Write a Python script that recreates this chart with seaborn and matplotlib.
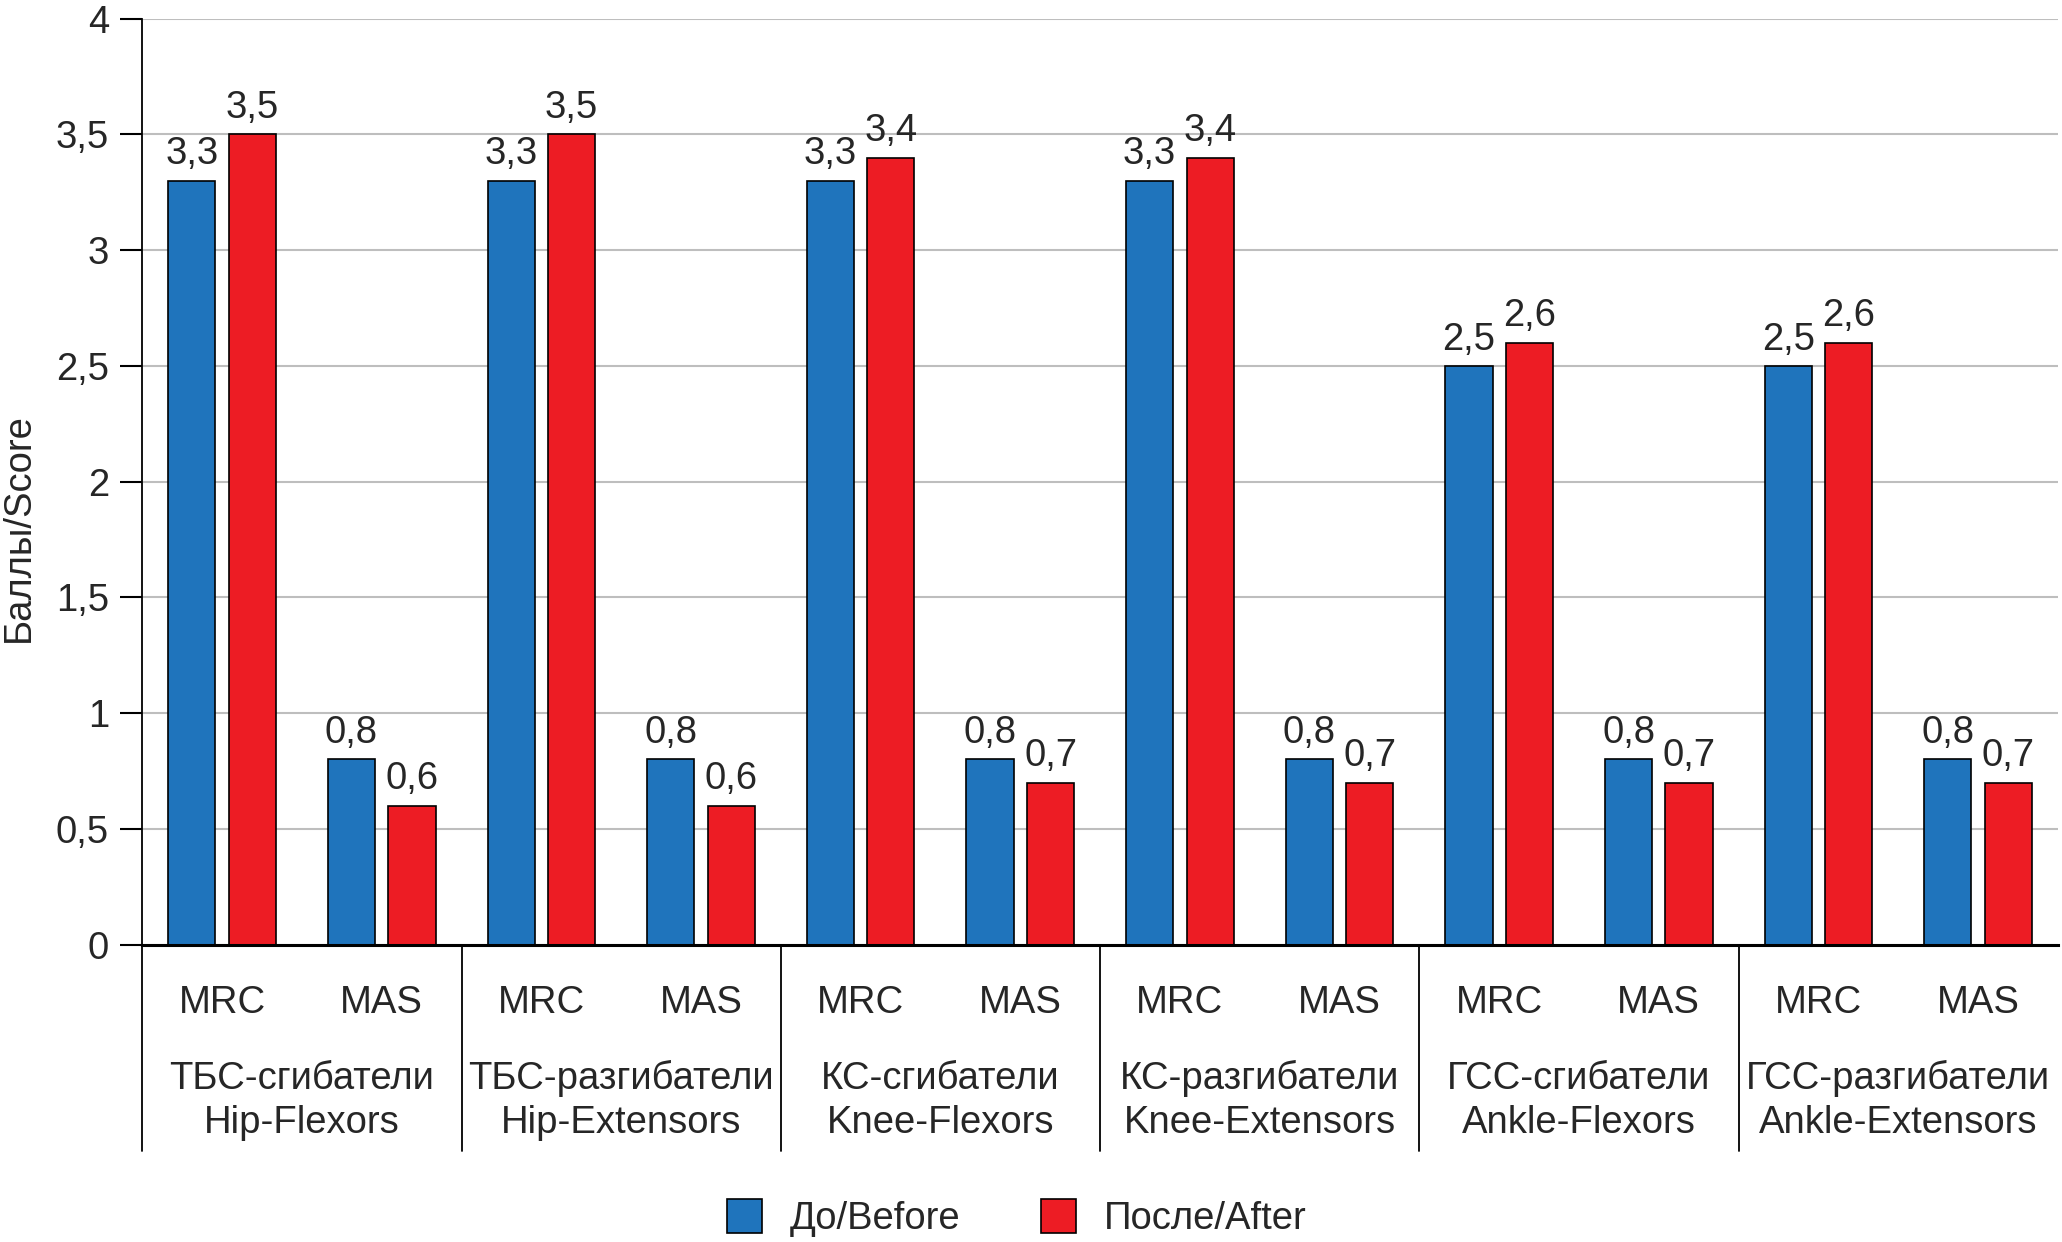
import pandas as pd
import seaborn as sns
import matplotlib.pyplot as plt
import matplotlib.transforms as mtransforms
from matplotlib.ticker import FuncFormatter, MultipleLocator
from matplotlib.patches import Patch

# Data
groups_ru = ['ТБС-сгибатели', 'ТБС-разгибатели', 'КС-сгибатели',
             'КС-разгибатели', 'ГСС-сгибатели', 'ГСС-разгибатели']
groups_en = ['Hip-Flexors', 'Hip-Extensors', 'Knee-Flexors',
             'Knee-Extensors', 'Ankle-Flexors', 'Ankle-Extensors']
measures = ['MRC', 'MAS']
periods = ['До/Before', 'После/After']

mrc_before = [3.3, 3.3, 3.3, 3.3, 2.5, 2.5]
mrc_after = [3.5, 3.5, 3.4, 3.4, 2.6, 2.6]
mas_before = [0.8, 0.8, 0.8, 0.8, 0.8, 0.8]
mas_after = [0.6, 0.6, 0.7, 0.7, 0.7, 0.7]

rows = []
for i, g in enumerate(groups_en):
    rows.append((g + ' MRC', periods[0], mrc_before[i]))
    rows.append((g + ' MRC', periods[1], mrc_after[i]))
    rows.append((g + ' MAS', periods[0], mas_before[i]))
    rows.append((g + ' MAS', periods[1], mas_after[i]))
df = pd.DataFrame(rows, columns=['key', 'period', 'value'])
order = [g + ' ' + m for g in groups_en for m in measures]

blue = '#1F74BC'
red = '#ED1C24'
fs = 27.5

sns.set_style('white')
plt.rcParams['font.family'] = ['Liberation Sans', 'DejaVu Sans']

fig, ax = plt.subplots(figsize=(20.62, 12.42), dpi=100)
fig.subplots_adjust(left=0.069, right=0.998, top=0.985, bottom=0.2394)

sns.barplot(data=df, x='key', y='value', hue='period', order=order,
            hue_order=periods, palette=[blue, red], saturation=1,
            width=0.758, gap=0.22, edgecolor='black', linewidth=1.2,
            ax=ax, legend=False)

for cont in ax.containers:
    ax.bar_label(cont, labels=[f'{b.get_height():g}'.replace('.', ',') for b in cont],
                 padding=6, fontsize=fs)

ax.set_ylim(0, 4)
ax.set_xlim(-0.5, 11.5)
ax.yaxis.set_major_locator(MultipleLocator(0.5))
ax.yaxis.set_major_formatter(FuncFormatter(lambda v, p: f'{v:g}'.replace('.', ',')))
ax.grid(axis='y', color='#BEBEBE', linewidth=1.5)
ax.set_axisbelow(True)

for s in ['top', 'right']:
    ax.spines[s].set_visible(False)
ax.spines['left'].set_color('black')
ax.spines['left'].set_linewidth(1.3)
ax.spines['bottom'].set_color('black')
ax.spines['bottom'].set_linewidth(2.2)

ax.tick_params(axis='y', direction='out', length=16, width=1.5, color='black',
               labelsize=fs, pad=8, left=True)
ax.set_xticks(range(len(order)))
ax.set_xticklabels(measures * len(groups_en))
ax.tick_params(axis='x', length=0, labelsize=fs, pad=29)

ax.set_xlabel('')
ax.set_ylabel('Баллы/Score', fontsize=fs)
ax.yaxis.set_label_coords(-0.055, 0.45)

trans = mtransforms.blended_transform_factory(ax.transData, ax.transAxes)
for i in range(len(groups_en)):
    xc = 2 * i + 0.5
    ax.text(xc, -0.145, groups_ru[i], transform=trans, ha='center', va='center', fontsize=fs)
    ax.text(xc, -0.193, groups_en[i], transform=trans, ha='center', va='center', fontsize=fs)
    xb = 2 * i - 0.5
    ax.plot([xb, xb], [0, -0.223], transform=trans, color='black',
            linewidth=1.3, clip_on=False)

handles = [Patch(facecolor=blue, edgecolor='black', linewidth=1.2),
           Patch(facecolor=red, edgecolor='black', linewidth=1.2)]
fig.legend(handles, periods, loc='center', bbox_to_anchor=(0.493, 0.019),
           ncol=2, frameon=False, fontsize=fs, handlelength=0.93, handleheight=1.0,
           columnspacing=2.1, handletextpad=0.72)

fig.savefig('out.png', dpi=100)
